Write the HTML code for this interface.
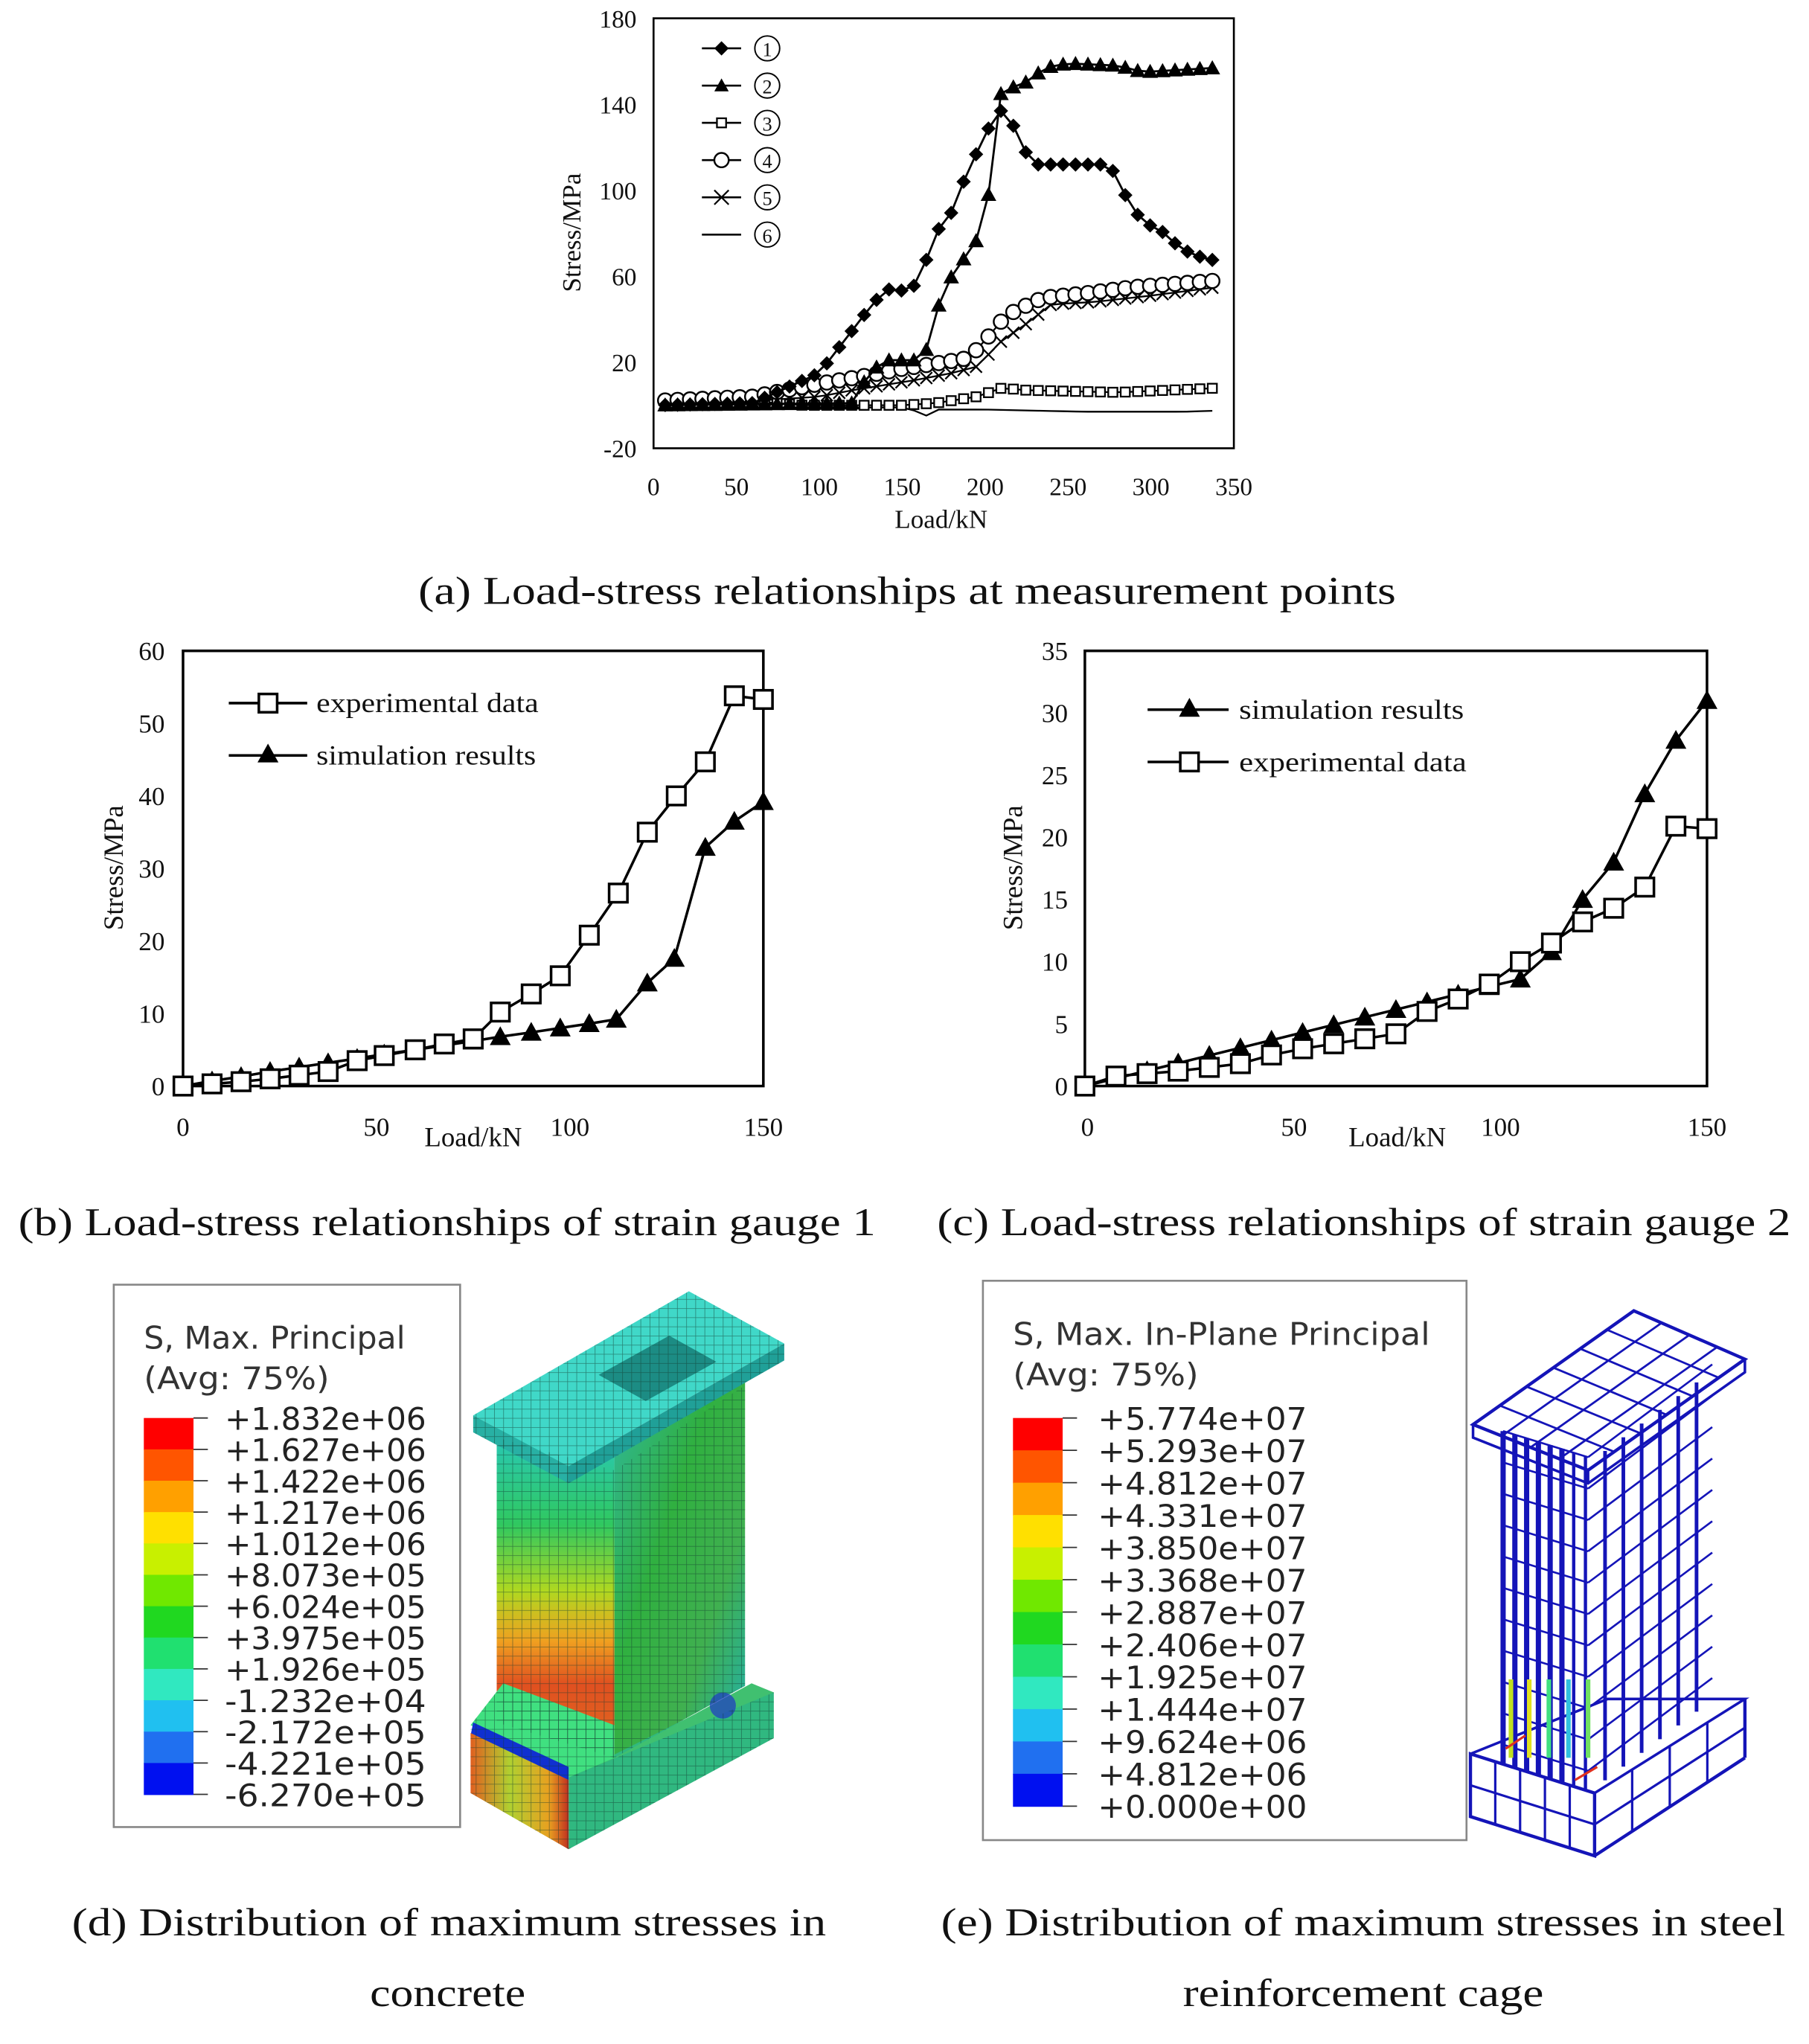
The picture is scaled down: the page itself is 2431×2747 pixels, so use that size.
<!DOCTYPE html>
<html><head><meta charset="utf-8">
<style>
html,body{margin:0;padding:0;background:#fff;}
svg{display:block;}
</style></head>
<body>
<svg id="s" width="2431" height="2747" viewBox="0 0 1384 1564" xmlns="http://www.w3.org/2000/svg">
<rect width="1384" height="1564" fill="#fff"/>
<defs>
<linearGradient id="webF" x1="0" y1="0" x2="0" y2="1">
<stop offset="0" stop-color="#28c8c0"/><stop offset="0.3" stop-color="#30c860"/><stop offset="0.5" stop-color="#b0d820"/><stop offset="0.65" stop-color="#f0a020"/><stop offset="0.78" stop-color="#e05020"/><stop offset="0.9" stop-color="#e06020"/><stop offset="1" stop-color="#e09030"/>
</linearGradient>
<linearGradient id="webS" x1="0" y1="0" x2="1" y2="1">
<stop offset="0" stop-color="#30b8a0"/><stop offset="0.4" stop-color="#30b040"/><stop offset="0.7" stop-color="#40b050"/><stop offset="1" stop-color="#20b0b0"/>
</linearGradient>
<linearGradient id="botF" x1="0" y1="0" x2="1" y2="0">
<stop offset="0" stop-color="#e06020"/><stop offset="0.4" stop-color="#b0d030"/><stop offset="0.8" stop-color="#e8a020"/><stop offset="1" stop-color="#c03020"/>
</linearGradient>
<pattern id="mesh" width="7" height="7" patternUnits="userSpaceOnUse"><path d="M0 0H7M0 0V7" stroke="#123a30" stroke-width="0.9" fill="none" opacity="0.55"/></pattern>
</defs>
<g id="g" font-family="Liberation Serif, serif" fill="#111"></g>
</svg>
<script>
const NS="http://www.w3.org/2000/svg",g=document.getElementById('g');
function el(t,a,txt){const e=document.createElementNS(NS,t);for(const k in a)e.setAttribute(k,a[k]);if(txt!==undefined)e.textContent=txt;g.appendChild(e);return e;}
function T(x,y,s,sz,anc,extra){return el('text',Object.assign({x:x,y:y,'font-size':sz,'text-anchor':anc||'middle'},extra||{}),s);}
function C(x1,x2,y,s){return T(x1,y,s,30,'start',{textLength:x2-x1,lengthAdjust:'spacingAndGlyphs'});}
function marker(type,x,y,r){
 r=r||6;
 if(type=='d')el('polygon',{points:`${x},${y-r} ${x+r},${y} ${x},${y+r} ${x-r},${y}`,fill:'#000'});
 else if(type=='t')el('polygon',{points:`${x},${y-r} ${x+r},${y+r*0.8} ${x-r},${y+r*0.8}`,fill:'#000'});
 else if(type=='s')el('rect',{x:x-r,y:y-r,width:2*r,height:2*r,fill:'#fff',stroke:'#000','stroke-width':r>5?2:1.3});
 else if(type=='c')el('circle',{cx:x,cy:y,r:r,fill:'#fff',stroke:'#000','stroke-width':1.4});
 else if(type=='x'){el('path',{d:`M${x-r} ${y-r}L${x+r} ${y+r}M${x-r} ${y+r}L${x+r} ${y-r}`,stroke:'#000','stroke-width':1.3});}
}
function interp(pts,x){for(let i=0;i<pts.length-1;i++){if(x>=pts[i][0]&&x<=pts[i+1][0]){const t=(x-pts[i][0])/(pts[i+1][0]-pts[i][0]);return pts[i][1]+t*(pts[i+1][1]-pts[i][1]);}}return pts[pts.length-1][1];}
function series(pts,X,Y,type,r,w){
 el('polyline',{points:pts.map(p=>X(p[0])+','+Y(p[1])).join(' '),fill:'none',stroke:'#000','stroke-width':w||1.6});
 if(type)pts.forEach(p=>marker(type,X(p[0]),Y(p[1]),r));
}
// ---------- Chart A ----------
{
const X=v=>500+v*444/350,Y=v=>343-(v+20)*329/200;
el('rect',{x:500,y:14,width:444,height:329,fill:'none',stroke:'#000','stroke-width':1.5});
[-20,20,60,100,140,180].forEach(v=>T(487,Y(v)+7,String(v),19,'end'));
[0,50,100,150,200,250,300,350].forEach(v=>T(X(v),379,String(v),19));
T(720,404,'Load/kN',20);
T(0,0,'Stress/MPa',20,'middle',{transform:'translate(444,178) rotate(-90)'});
const xs=[];for(let x=7;x<=340;x+=7.5)xs.push(x);
const d1=[[0,0],[60,1],[80,8],[100,15],[110,25],[120,35],[130,45],[140,54],[155,53],[162,62],[170,80],[180,90],[190,110],[200,125],[207,138],[214,135],[220,125],[228,112],[275,112],[285,97],[295,85],[305,82],[315,75],[325,70],[340,67]];
const d2=[[0,0],[120,1],[130,15],[140,21],[158,21],[166,27],[174,53],[184,65],[194,75],[202,98],[210,148],[220,148],[228,152],[236,157],[250,159],[280,158],[295,155],[340,157]];
const d3=[[0,2],[60,2],[90,0],[150,0],[170,1],[195,4],[210,8],[225,7],[280,6],[340,8]];
const d4=[[0,2],[60,4],[100,10],[130,14],[150,17],[175,20],[190,22],[200,30],[208,38],[218,44],[235,50],[260,52],[290,55],[340,58]];
const d5=[[0,1],[60,2],[100,4],[120,7],[160,12],[180,15],[195,18],[210,30],[225,38],[240,47],[265,48],[300,51],[340,55]];
const d6=[[0,-1],[150,-1],[160,-3],[165,-5],[172,-2],[200,-2],[260,-3],[320,-3],[340,-2.5]];
const mk=(d)=>xs.map(x=>[x,interp(d,x)]);
series(mk(d6),X,Y,null,0,1.3);
series(mk(d5),X,Y,'x',4.5,1.3);
series(mk(d3),X,Y,'s',3.5,1.3);
series(mk(d4),X,Y,'c',5.5,1.3);
series(mk(d2),X,Y,'t',6,1.6);
series(mk(d1),X,Y,'d',5.5,1.6);
const ty=['d','t','s','c','x',null];
ty.forEach((tp,i)=>{const y=37+i*28.5;el('line',{x1:537,y1:y,x2:567,y2:y,stroke:'#000','stroke-width':1.5});if(tp)marker(tp,552,y,tp=='s'?3.5:5.5);
 el('circle',{cx:587,cy:y,r:9.5,fill:'none',stroke:'#000','stroke-width':1.1});
 T(587,y+6,String(i+1),15,'middle');});
C(320,1068,462,'(a) Load-stress relationships at measurement points');
}
// ---------- Chart B ----------
{
const X=v=>140+v*444/150,Y=v=>831-v*333/60;
el('rect',{x:140,y:498,width:444,height:333,fill:'none',stroke:'#000','stroke-width':2});
[0,10,20,30,40,50,60].forEach(v=>T(126,Y(v)+7,String(v),20,'end'));
[[0,140],[50,288],[100,436],[150,584]].forEach(p=>T(p[1],869,String(p[0]),20));
T(362,877,'Load/kN',21);
T(0,0,'Stress/MPa',21,'middle',{transform:'translate(94,664) rotate(-90)'});
const e=[[0,0],[7.5,0.3],[15,0.6],[22.5,1],[30,1.5],[37.5,2],[45,3.5],[52,4.2],[60,5],[67.5,5.8],[75,6.5],[82,10.2],[90,12.7],[97.5,15.2],[105,20.8],[112.5,26.6],[120,35],[127.5,40],[135,44.7],[142.5,53.8],[150,53.3]];
const s=[[0,0],[7.5,0.7],[15,1.3],[22.5,2],[30,2.6],[37.5,3.2],[45,3.8],[52,4.4],[60,5],[67.5,5.6],[75,6.2],[82,6.8],[90,7.4],[97.5,8],[105,8.6],[112,9.2],[120,14.2],[127,17.6],[135,32.9],[142.5,36.5],[150,39.2]];
series(s,X,Y,'t',8,2);series(e,X,Y,'s',7,2);
el('line',{x1:175,y1:538,x2:235,y2:538,stroke:'#000','stroke-width':2});marker('s',205,538,7);
el('line',{x1:175,y1:578,x2:235,y2:578,stroke:'#000','stroke-width':2});marker('t',205,577,8);
T(242,545,'experimental data',21,'start',{textLength:170,lengthAdjust:'spacingAndGlyphs'});
T(242,585,'simulation results',21,'start',{textLength:168,lengthAdjust:'spacingAndGlyphs'});
C(14,670,945,'(b) Load-stress relationships of strain gauge 1');
}
// ---------- Chart C ----------
{
const X=v=>830+v*476/150,Y=v=>831-v*333/35;
el('rect',{x:830,y:498,width:476,height:333,fill:'none',stroke:'#000','stroke-width':2});
[0,5,10,15,20,25,30,35].forEach(v=>T(817,Y(v)+7,String(v),20,'end'));
[[0,832],[50,990],[100,1148],[150,1306]].forEach(p=>T(p[1],869,String(p[0]),20));
T(1069,877,'Load/kN',21);
T(0,0,'Stress/MPa',21,'middle',{transform:'translate(782,664) rotate(-90)'});
const s=[];for(let x=0;x<=98;x+=7.5)s.push([x,x*0.082]);s.push([105,8.6],[112.5,10.8],[120,15],[127.5,18],[135,23.5],[142.5,27.8],[150,31]);
const e=[[0,0],[7.5,0.8],[15,1],[22.5,1.2],[30,1.5],[37.5,1.8],[45,2.5],[52.5,3],[60,3.4],[67.5,3.8],[75,4.2],[82.5,6],[90,7],[97.5,8.2],[105,10],[112.5,11.5],[120,13.2],[127.5,14.3],[135,16],[142.5,20.9],[150,20.7]];
series(s,X,Y,'t',8,2);series(e,X,Y,'s',7,2);
el('line',{x1:878,y1:543,x2:940,y2:543,stroke:'#000','stroke-width':2});marker('t',910,542,8);
el('line',{x1:878,y1:583,x2:940,y2:583,stroke:'#000','stroke-width':2});marker('s',910,583,7);
T(948,550,'simulation results',21,'start',{textLength:172,lengthAdjust:'spacingAndGlyphs'});
T(948,590,'experimental data',21,'start',{textLength:174,lengthAdjust:'spacingAndGlyphs'});
C(717,1370,945,'(c) Load-stress relationships of strain gauge 2');
}
// ---------- Legends D, E ----------
const cols=['#ff0000','#ff5500','#ffa000','#ffe000','#c8f000','#70e800','#20d820','#20e070','#30e8c0','#20c0f0','#2070f0','#0010f0'];
const SF='DejaVu Sans, Liberation Sans, sans-serif';
function legend(bx,by,bw,bh,title,tw,labels,y0,step,lx,lw){
 el('rect',{x:bx,y:by,width:bw,height:bh,fill:'#fff',stroke:'#888','stroke-width':1.5});
 T(bx+23,by+49,title,24,'start',{'font-family':SF,fill:'#333',textLength:tw,lengthAdjust:'spacingAndGlyphs'});
 T(bx+23,by+80,'(Avg: 75%)',24,'start',{'font-family':SF,fill:'#333',textLength:142,lengthAdjust:'spacingAndGlyphs'});
 for(let i=0;i<12;i++)el('rect',{x:bx+23,y:y0+i*step,width:38,height:step+0.5,fill:cols[i]});
 labels.forEach((l,i)=>{const y=y0+i*step;el('line',{x1:bx+61,y1:y,x2:bx+72,y2:y,stroke:'#333','stroke-width':1});
  T(lx,y+9,l,24,'start',{'font-family':SF,fill:'#222',textLength:lw,lengthAdjust:'spacingAndGlyphs'});});
}
legend(87,983,265,415,'S, Max. Principal',200,['+1.832e+06','+1.627e+06','+1.422e+06','+1.217e+06','+1.012e+06','+8.073e+05','+6.024e+05','+3.975e+05','+1.926e+05','-1.232e+04','-2.172e+05','-4.221e+05','-6.270e+05'],1085,24.0,172,154);
legend(752,980,370,428,'S, Max. In-Plane Principal',319,['+5.774e+07','+5.293e+07','+4.812e+07','+4.331e+07','+3.850e+07','+3.368e+07','+2.887e+07','+2.406e+07','+1.925e+07','+1.444e+07','+9.624e+06','+4.812e+06','+0.000e+00'],1085,24.75,840,160);
// ---------- Concrete model ----------
el('polygon',{points:'470,1105 570,1048 570,1290 470,1345',fill:'url(#webS)'});
el('polygon',{points:'380,1090 470,1100 470,1345 380,1318',fill:'url(#webF)'});
el('polygon',{points:'435,1360 575,1290 592,1295 592,1330 435,1415',fill:'#30b880'});
el('polygon',{points:'470,1345 575,1288 592,1295 435,1360',fill:'#40c070'});
el('polygon',{points:'360,1320 385,1288 470,1320 470,1345 435,1360',fill:'#40e080'});
el('polygon',{points:'362,1318 435,1352 435,1362 360,1328',fill:'#1030d0'});
el('polygon',{points:'360,1326 435,1362 435,1415 360,1372',fill:'url(#botF)'});
el('circle',{cx:553,cy:1305,r:10,fill:'#2040c0',opacity:0.75});
el('polygon',{points:'362,1083 527,988 600,1028 435,1122',fill:'#40d8c8'});
el('polygon',{points:'362,1083 435,1122 435,1135 362,1096',fill:'#28b0a4'});
el('polygon',{points:'435,1122 600,1028 600,1041 435,1135',fill:'#20a098'});
el('polygon',{points:'458,1052 512,1022 548,1042 494,1072',fill:'#1c8c84'});
['362,1083 527,988 600,1028 600,1041 435,1135 362,1096','380,1100 470,1125 470,1345 380,1318','470,1125 570,1060 570,1290 470,1345','360,1320 385,1288 470,1320 470,1345 435,1362 435,1415 360,1372','435,1360 592,1295 592,1330 435,1415'].forEach(p=>el('polygon',{points:p,fill:'url(#mesh)'}));
// ---------- Steel cage ----------
{
const c='#1414b8';
const L=(a,b,c2,d,w)=>el('line',{x1:a,y1:b,x2:c2,y2:d,stroke:c,'stroke-width':w||2});
for(let x=1150;x<=1215;x+=9){L(x,1095+(x-1150)*0.3,x,1350+(x-1150)*0.3,x<1200?4:2.5);}
for(let x=1228;x<=1310;x+=14){L(x,1120-(x-1215)*0.75,x,1372-(x-1215)*0.75,2.8);}
for(let y=0;y<=250;y+=24){L(1150,1095+y,1215,1115+y,1.5);L(1215,1115+y,1310,1044+y,1.5);}
el('polygon',{points:'1127,1090 1250,1003 1335,1040 1215,1125',fill:'none',stroke:c,'stroke-width':2.5});
el('polyline',{points:'1127,1090 1127,1100 1215,1135 1335,1050 1335,1040',fill:'none',stroke:c,'stroke-width':2});
L(1215,1125,1215,1135,2);
for(let i=1;i<6;i++){const t=i/6;L(1127+t*123,1090-t*87,1215+t*120,1125-t*85,1.6);}
for(let i=1;i<4;i++){const t=i/4;L(1127+t*88,1090+t*35,1250+t*85,1003+t*37,1.6);}
el('polygon',{points:'1125,1342 1220,1372 1220,1420 1125,1390',fill:'none',stroke:c,'stroke-width':2.5});
el('polyline',{points:'1125,1342 1230,1300 1335,1300 1220,1372',fill:'none',stroke:c,'stroke-width':2});
L(1220,1420,1335,1345,2.5);L(1335,1300,1335,1345,2.5);
for(let i=1;i<5;i++){const t=i/5;L(1125+t*95,1342+t*30,1125+t*95,1390+t*30,1.8);}
L(1125,1366,1220,1396,1.8);L(1220,1396,1335,1322,1.8);
for(let i=1;i<4;i++){const t=i/4;L(1220+t*115,1372-t*72,1220+t*115,1420-t*75,1.8);}
[[1156,'#c0e020'],[1170,'#e0e020'],[1185,'#40e080'],[1200,'#30c0e0'],[1215,'#70e060']].forEach(p=>el('line',{x1:p[0],y1:1285,x2:p[0],y2:1345,stroke:p[1],'stroke-width':3.5}));
el('line',{x1:1152,y1:1338,x2:1167,y2:1328,stroke:'#e03020','stroke-width':1.8});
el('line',{x1:1205,y1:1362,x2:1222,y2:1352,stroke:'#e03020','stroke-width':1.8});
}
C(55,632,1481,'(d) Distribution of maximum stresses in');
C(283,402,1535,'concrete');
C(720,1366,1481,'(e) Distribution of maximum stresses in steel');
C(905,1181,1535,'reinforcement cage');
</script>
</body></html>
